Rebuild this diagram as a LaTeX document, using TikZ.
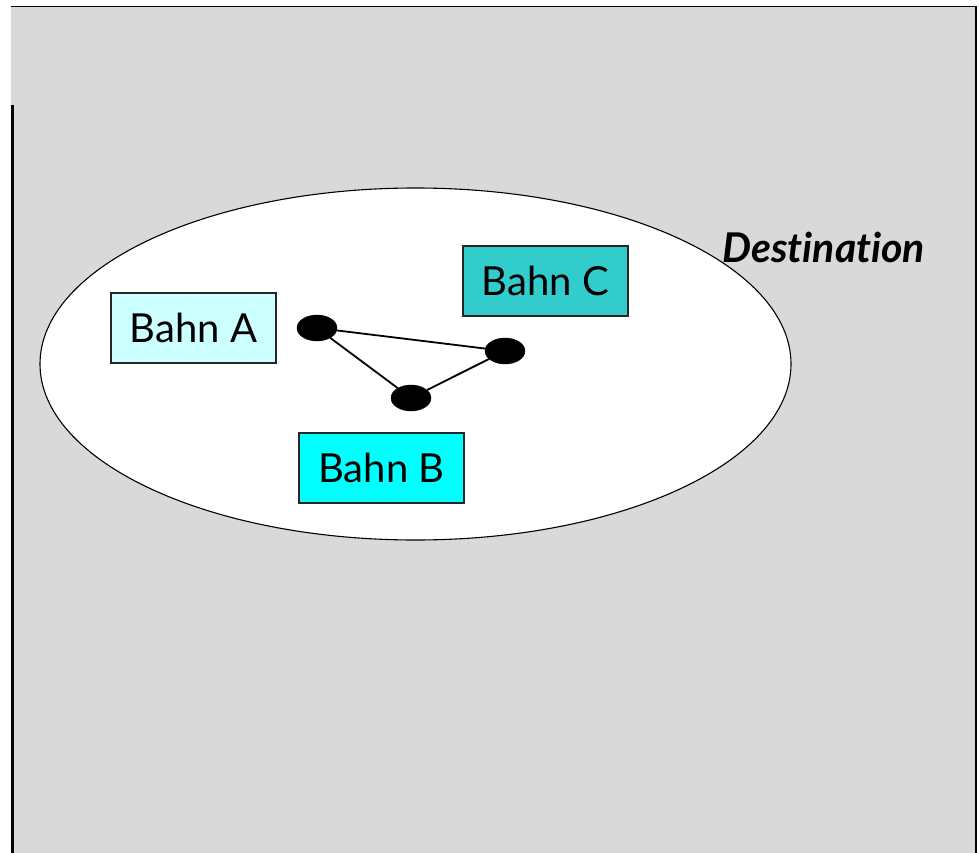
\documentclass[tikz,border=0pt]{standalone}
\usepackage{fontspec}
\setmainfont{Lato}
\newfontfamily\labelfont[Ligatures=NoCommon]{Lato}
\usetikzlibrary{shapes.geometric}
\definecolor{panelgray}{HTML}{D9D9D9}
\definecolor{bahnA}{HTML}{CCFFFF}
\definecolor{bahnB}{HTML}{00FFFF}
\definecolor{bahnC}{HTML}{33CCCC}
\tikzset{
  bahnbox/.style={draw=black!85, line width=1.8pt, minimum width=165pt, minimum height=70pt,
    inner sep=0pt, font=\labelfont\fontsize{40}{44}\selectfont, anchor=north west},
  station/.style={ellipse, fill=black, draw=black, minimum width=40pt, minimum height=26pt, inner sep=0pt},
  track/.style={line width=1.8pt, black}
}
\begin{document}
\begin{tikzpicture}[x=1pt, y=-1pt]
  \useasboundingbox (0,0) rectangle (979,853);
  % grey panel and its frame
  \fill[panelgray] (11,6) rectangle (977,853);
  \draw[line width=2.6pt] (12.3,853) -- (12.3,105);
  \draw[line width=1.6pt] (11,6.5) -- (977,6.5);
  \draw[line width=2.6pt] (976,6) -- (976,853);
  % destination area
  \node[ellipse, draw=black, fill=white, line width=1.1pt, minimum width=751pt, minimum height=352pt, inner sep=0pt]
    (dest) at (415.5,364) {};
  \node[font=\labelfont\bfseries\itshape\fontsize{41}{44}\selectfont, anchor=base west, inner sep=0pt]
    (destlabel) at (722,262) {Destination};
  % lines
  \node[bahnbox, fill=bahnA] (bahna) at (110,292) {Bahn A};
  \node[bahnbox, fill=bahnC] (bahnc) at (462,245) {Bahn C};
  \node[bahnbox, fill=bahnB] (bahnb) at (298,432) {Bahn B};
  % stations and tracks
  \node[station] (s1) at (317,328) {};
  \node[station] (s2) at (505,351) {};
  \node[station] (s3) at (411,398) {};
  \draw[track] (s1) -- (s2);
  \draw[track] (s1) -- (s3);
  \draw[track] (s3) -- (s2);
\end{tikzpicture}
\end{document}
